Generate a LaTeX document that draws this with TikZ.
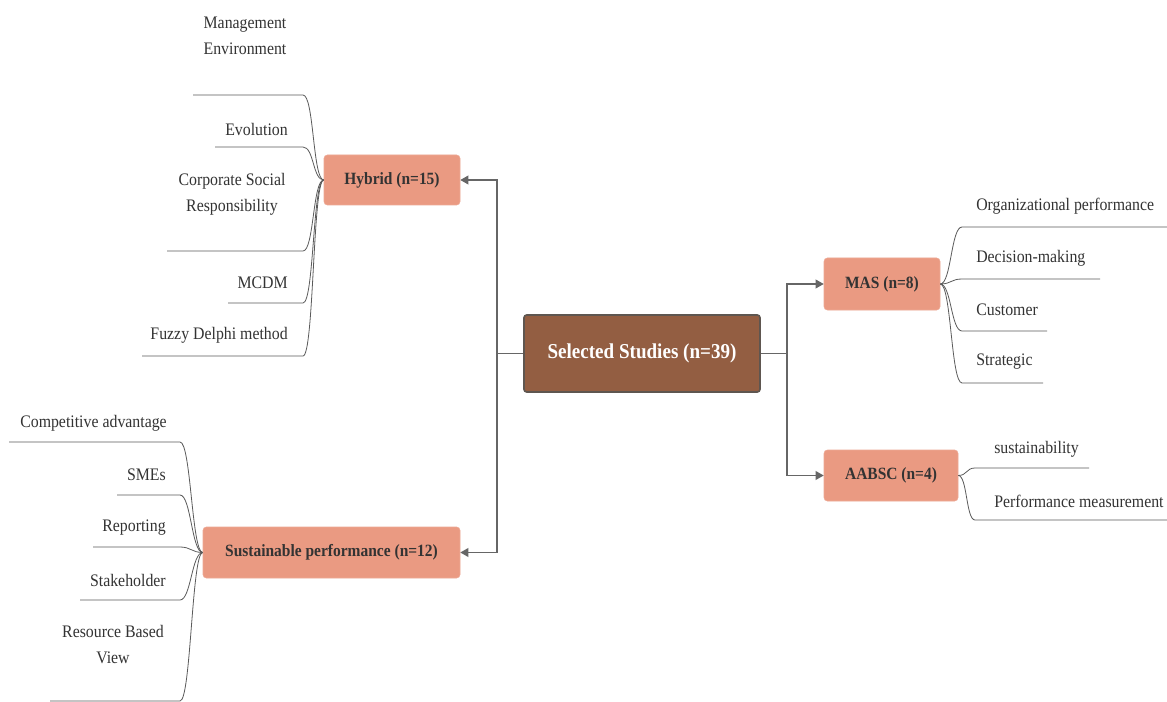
\documentclass[tikz,border=0pt]{standalone}
\usepackage{fontspec}
\setmainfont{Liberation Serif}[FakeStretch=0.9]
\usetikzlibrary{arrows.meta}
\definecolor{salmon}{HTML}{EA9A82}
\definecolor{brownc}{HTML}{935E42}
\definecolor{brownb}{HTML}{5E5650}
\definecolor{lgray}{HTML}{5A5A5A}
\definecolor{agray}{HTML}{666666}
\definecolor{txt}{HTML}{333333}
\begin{document}
\begin{tikzpicture}[x=0.75pt,y=-0.75pt,
  cat/.style={draw=salmon!85!white,fill=salmon,rounded corners=2.5pt,inner sep=0pt,
    font=\fontsize{12.9}{15}\selectfont\bfseries,text=black!80},
  root/.style={draw=brownb,line width=1.2pt,fill=brownc,rounded corners=2pt,inner sep=0pt,
    font=\fontsize{15.9}{18}\selectfont\bfseries,text=white,
    minimum width=177pt,minimum height=57.75pt},
  leaf/.style={inner sep=0pt,text=txt,font=\fontsize{13.2}{19.5}\selectfont},
  leafline/.style={draw=lgray,line width=0.6pt},
  arr/.style={draw=agray,line width=1pt,-{Triangle[width=6.5pt,length=6pt]}}]
\useasboundingbox[fill=white] (0,0) rectangle (1167,702);

% nodes
\node[root] (cen) at (642,353.5) {Selected Studies (n=39)};
\node[cat,minimum width=102pt,minimum height=37.5pt] (hyb) at (392,180) {Hybrid (n=15)};
\node[cat,minimum width=192.75pt,minimum height=38.25pt] (sus) at (331.5,552.5) {Sustainable performance (n=12)};
\node[cat,minimum width=87pt,minimum height=39pt] (mas) at (882,284) {MAS (n=8)};
\node[cat,minimum width=100.5pt,minimum height=38.25pt] (aab) at (891,475.5) {AABSC (n=4)};

% main connectors
\coordinate (jl) at (497,353.5);
\coordinate (jr) at (787,353.5);
\draw[arr] (cen.west) -- (jl) |- (hyb.east);
\draw[arr] (jl) |- (sus.east);
\draw[arr] (cen.east) -- (jr) |- (mas.west);
\draw[arr] (jr) |- (aab.west);

% Hybrid leaves
\node[leaf,align=center] (h1) at (245,36) {Management\\Environment};
\node[leaf,anchor=east] (h2) at (288,129) {Evolution};
\node[leaf,align=center] (h3) at (232,194) {Corporate Social\\Responsibility};
\node[leaf,anchor=east] (h4) at (288,283) {MCDM};
\node[leaf,anchor=east] (h5) at (288,335) {Fuzzy Delphi method};
\coordinate (h1a) at (303,95);  \coordinate (h1b) at (193,95);
\coordinate (h2a) at (303,147); \coordinate (h2b) at (215,147);
\coordinate (h3a) at (303,251); \coordinate (h3b) at (167,251);
\coordinate (h4a) at (303,303); \coordinate (h4b) at (228,303);
\coordinate (h5a) at (303,356); \coordinate (h5b) at (142,356);
\foreach \i in {1,...,5}{
  \draw[leafline] (hyb.west) .. controls +(-11,0) and +(11,0) .. (h\i a) -- (h\i b);
}

% Sustainable leaves
\node[leaf,anchor=west] (s1) at (20,423) {Competitive advantage};
\node[leaf,anchor=east] (s2) at (166,475) {SMEs};
\node[leaf,anchor=east] (s3) at (166,528) {Reporting};
\node[leaf,anchor=east] (s4) at (166,580) {Stakeholder};
\node[leaf,align=center] (s5) at (113,645) {Resource Based\\View};
\coordinate (s1a) at (180,442); \coordinate (s1b) at (9,442);
\coordinate (s2a) at (180,495); \coordinate (s2b) at (117,495);
\coordinate (s3a) at (180,547); \coordinate (s3b) at (93,547);
\coordinate (s4a) at (180,600); \coordinate (s4b) at (80,600);
\coordinate (s5a) at (180,701); \coordinate (s5b) at (50,701);
\foreach \i in {1,...,5}{
  \draw[leafline] (sus.west) .. controls +(-11,0) and +(11,0) .. (s\i a) -- (s\i b);
}

% MAS leaves
\node[leaf,anchor=west] (m1) at (976,206) {Organizational performance};
\node[leaf,anchor=west] (m2) at (976,258) {Decision-making};
\node[leaf,anchor=west] (m3) at (976,310) {Customer};
\node[leaf,anchor=west] (m4) at (976,362) {Strategic};
\coordinate (m1a) at (962,227); \coordinate (m1b) at (1167,227);
\coordinate (m2a) at (962,279); \coordinate (m2b) at (1100,279);
\coordinate (m3a) at (962,331); \coordinate (m3b) at (1047,331);
\coordinate (m4a) at (962,383); \coordinate (m4b) at (1043,383);
\foreach \i in {1,...,4}{
  \draw[leafline] (mas.east) .. controls +(11,0) and +(-11,0) .. (m\i a) -- (m\i b);
}

% AABSC leaves
\node[leaf,anchor=west] (a1) at (994,449) {sustainability};
\node[leaf,anchor=west] (a2) at (994,501) {Performance measurement};
\coordinate (a1a) at (975,468); \coordinate (a1b) at (1089,468);
\coordinate (a2a) at (975,520); \coordinate (a2b) at (1167,520);
\foreach \i in {1,2}{
  \draw[leafline] (aab.east) .. controls +(9,0) and +(-9,0) .. (a\i a) -- (a\i b);
}
\end{tikzpicture}
\end{document}
